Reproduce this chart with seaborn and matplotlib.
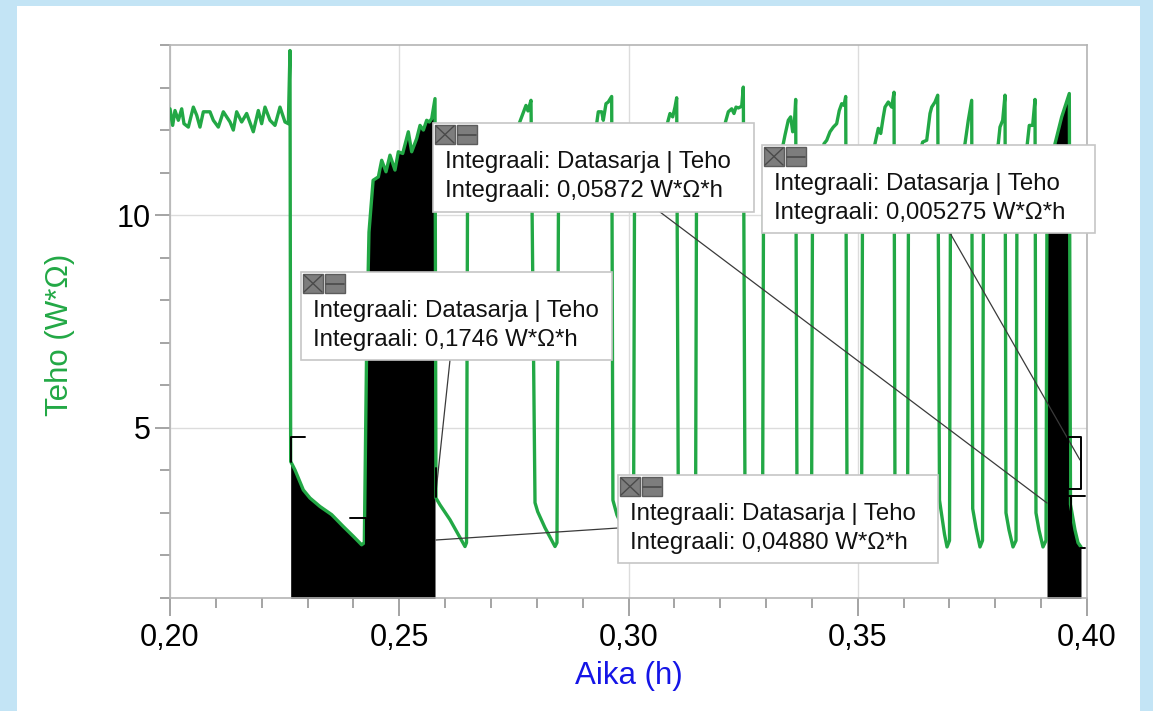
import numpy as np
import pandas as pd
import matplotlib
matplotlib.use("Agg")
import matplotlib.pyplot as plt
import seaborn as sns
from matplotlib.patches import Rectangle
from matplotlib.lines import Line2D
from matplotlib.ticker import MultipleLocator, FuncFormatter

# ---------------- data (Aika in h, Teho in W*Ohm) ----------------
alku_aika = [0.20000, 0.20058, 0.20109, 0.20182, 0.20255, 0.20305, 0.20400, 0.20509, 0.20582, 0.20654,
             0.20727, 0.20872, 0.20945, 0.21054, 0.21163, 0.21309, 0.21381, 0.21454, 0.21563, 0.21672,
             0.21817, 0.21926, 0.21999, 0.22072, 0.22181, 0.22290, 0.22399, 0.22508, 0.22581, 0.22617]
alku_teho = [12.50, 12.11, 12.46, 12.23, 12.50, 12.15, 12.07, 12.54, 12.35, 12.07,
             12.43, 12.43, 12.23, 12.07, 12.43, 12.19, 12.00, 12.43, 12.19, 12.39,
             11.96, 12.46, 12.15, 12.54, 12.23, 12.11, 12.54, 12.19, 12.15, 13.87]

lasku1_aika = [0.22632, 0.22726, 0.22908, 0.23053, 0.23272, 0.23526, 0.23780, 0.23998, 0.24180]
lasku1_teho = [4.21, 4.01, 3.54, 3.35, 3.15, 2.96, 2.68, 2.45, 2.25]

nousu2_aika = [0.24238, 0.24290, 0.24340, 0.24430, 0.24544, 0.24617, 0.24711, 0.24798, 0.24907, 0.24980,
               0.25075, 0.25198, 0.25271, 0.25380, 0.25453, 0.25526, 0.25598, 0.25657, 0.25708, 0.25780]
nousu2_teho = [2.30, 7.00, 9.60, 10.82, 10.90, 11.29, 11.02, 11.41, 11.06, 11.49,
               11.45, 11.96, 11.49, 11.80, 12.11, 12.00, 12.23, 12.19, 12.27, 12.74]

lasku2_aika = [0.25801, 0.25889, 0.26107, 0.26434, 0.26467]
lasku2_teho = [3.35, 3.19, 2.84, 2.21, 2.30]

nousu3_aika = [0.26489, 0.26761, 0.27088, 0.27306, 0.27459, 0.27618, 0.27699, 0.27764, 0.27808, 0.27873]
nousu3_teho = [10.50, 10.90, 11.30, 11.60, 11.90, 12.16, 12.39, 12.58, 12.45, 12.70]
lasku3_aika = [0.27961, 0.28019, 0.28179, 0.28397, 0.28440]
lasku3_teho = [3.24, 3.03, 2.65, 2.21, 2.30]

nousu4_aika = [0.28473, 0.28724, 0.28942, 0.29160, 0.29307, 0.29341, 0.29416, 0.29450, 0.29509, 0.29559, 0.29633]
nousu4_teho = [10.40, 10.90, 11.30, 11.80, 12.16, 12.43, 12.43, 12.23, 12.62, 12.66, 12.79]
lasku4_aika = [0.29660, 0.29749, 0.29924, 0.30076, 0.30109]
lasku4_teho = [3.30, 2.95, 2.55, 2.20, 2.30]

nousu5_aika = [0.30131, 0.30360, 0.30578, 0.30731, 0.30846, 0.30905, 0.30964, 0.31014, 0.31051]
nousu5_teho = [10.40, 10.90, 11.40, 11.80, 12.15, 12.39, 12.31, 12.54, 12.76]
lasku5_aika = [0.31086, 0.31167, 0.31341, 0.31429, 0.31461]
lasku5_teho = [3.30, 3.00, 2.50, 2.20, 2.30]

nousu6_aika = [0.31483, 0.31669, 0.31821, 0.31996, 0.32105, 0.32177, 0.32251, 0.32301, 0.32345, 0.32395, 0.32469, 0.32504]
nousu6_teho = [10.40, 10.80, 11.30, 11.80, 12.15, 12.43, 12.50, 12.39, 12.54, 12.52, 12.56, 13.01]
lasku6_aika = [0.32541, 0.32607, 0.32759, 0.32890, 0.32923]
lasku6_teho = [3.30, 3.05, 2.55, 2.20, 2.30]

nousu7_aika = [0.32945, 0.33130, 0.33261, 0.33376, 0.33413, 0.33485, 0.33537, 0.33581, 0.33616, 0.33646]
nousu7_teho = [10.40, 10.90, 11.30, 11.68, 11.88, 12.23, 12.31, 11.96, 12.11, 12.72]
lasku7_aika = [0.33675, 0.33740, 0.33871, 0.33958, 0.33991]
lasku7_teho = [3.30, 3.00, 2.50, 2.20, 2.30]

nousu8_aika = [0.34013, 0.34133, 0.34264, 0.34323, 0.34395, 0.34467, 0.34540, 0.34597, 0.34650, 0.34700, 0.34737]
nousu8_teho = [10.30, 10.90, 11.68, 11.76, 11.96, 12.07, 12.15, 12.46, 12.62, 12.58, 12.79]
lasku8_aika = [0.34766, 0.34831, 0.34962, 0.35049, 0.35082]
lasku8_teho = [3.30, 3.00, 2.50, 2.20, 2.30]

nousu9_aika = [0.35104, 0.35245, 0.35376, 0.35448, 0.35501, 0.35557, 0.35594, 0.35666, 0.35740, 0.35791]
nousu9_teho = [10.40, 11.10, 11.68, 12.04, 11.92, 12.31, 12.54, 12.66, 12.54, 12.89]
lasku9_aika = [0.35812, 0.35878, 0.35987, 0.36052, 0.36085]
lasku9_teho = [3.30, 2.95, 2.45, 2.20, 2.30]

nousu10_aika = [0.36107, 0.36270, 0.36417, 0.36504, 0.36576, 0.36613, 0.36685, 0.36744]
nousu10_teho = [10.50, 11.20, 11.72, 11.76, 12.39, 12.54, 12.66, 12.82]
lasku10_aika = [0.36783, 0.36837, 0.36892, 0.36947, 0.37001]
lasku10_teho = [3.30, 2.90, 2.50, 2.20, 2.35]

nousu11_aika = [0.37023, 0.37187, 0.37339, 0.37411, 0.37485]
nousu11_teho = [10.60, 11.20, 11.68, 12.23, 12.70]
lasku11_aika = [0.37507, 0.37579, 0.37666, 0.37721]
lasku11_teho = [3.10, 2.65, 2.20, 2.35]

nousu12_aika = [0.37743, 0.37906, 0.38065, 0.38102, 0.38161, 0.38212]
nousu12_teho = [10.60, 11.20, 11.68, 12.07, 12.23, 12.82]
lasku12_aika = [0.38233, 0.38299, 0.38386, 0.38452]
lasku12_teho = [3.00, 2.60, 2.20, 2.35]

nousu13_aika = [0.38473, 0.38604, 0.38698, 0.38741, 0.38815, 0.38866]
nousu13_teho = [10.60, 11.20, 11.68, 12.11, 12.11, 12.72]
lasku13_aika = [0.38887, 0.38953, 0.39040, 0.39106]
lasku13_teho = [3.00, 2.60, 2.20, 2.35]

nousu14_aika = [0.39128, 0.39215, 0.39302, 0.39448, 0.39614]
nousu14_teho = [10.60, 11.20, 11.68, 12.31, 12.86]
lasku14_aika = [0.39640, 0.39673, 0.39738, 0.39804, 0.39869]
lasku14_teho = [3.20, 3.00, 2.60, 2.30, 2.20]

# integral regions (start, end) in hours
integraali_alueet = [(0.2263, 0.2579), (0.3912, 0.3990)]
integraali_tekstit = ["0,1746", "0,05872", "0,005275", "0,04880"]
x_ticks = [0.20, 0.25, 0.30, 0.35, 0.40]

aika = np.concatenate([alku_aika, lasku1_aika, nousu2_aika, lasku2_aika,
                       nousu3_aika, lasku3_aika, nousu4_aika, lasku4_aika,
                       nousu5_aika, lasku5_aika, nousu6_aika, lasku6_aika,
                       nousu7_aika, lasku7_aika, nousu8_aika, lasku8_aika,
                       nousu9_aika, lasku9_aika, nousu10_aika, lasku10_aika,
                       nousu11_aika, lasku11_aika, nousu12_aika, lasku12_aika,
                       nousu13_aika, lasku13_aika, nousu14_aika, lasku14_aika])
teho = np.concatenate([alku_teho, lasku1_teho, nousu2_teho, lasku2_teho,
                       nousu3_teho, lasku3_teho, nousu4_teho, lasku4_teho,
                       nousu5_teho, lasku5_teho, nousu6_teho, lasku6_teho,
                       nousu7_teho, lasku7_teho, nousu8_teho, lasku8_teho,
                       nousu9_teho, lasku9_teho, nousu10_teho, lasku10_teho,
                       nousu11_teho, lasku11_teho, nousu12_teho, lasku12_teho,
                       nousu13_teho, lasku13_teho, nousu14_teho, lasku14_teho])
df = pd.DataFrame({"Aika": aika, "Teho": teho})

# ---------------- styling ----------------
sns.set_theme(style="white")
plt.rcParams['font.family'] = ['Liberation Sans', 'DejaVu Sans']

GREEN = "#22a845"
W, H = 1153, 711
fig = plt.figure(figsize=(W / 100, H / 100), dpi=100, facecolor="#c3e4f5")

def fx(px):
    return px / W

def fy(py):
    return 1 - py / H

# white panel
fig.add_artist(Rectangle((fx(17), 0), fx(1140) - fx(17), fy(6), transform=fig.transFigure,
                         facecolor="white", edgecolor="none", zorder=-10))

ax = fig.add_axes([fx(170), fy(598), fx(1087) - fx(170), fy(45) - fy(598)])
ax.set_facecolor("white")

# integral fills
for a0, a1 in integraali_alueet:
    mask = (df["Aika"] >= a0) & (df["Aika"] <= a1)
    ax.fill_between(df["Aika"], df["Teho"], 0, where=mask, color="black", lw=0, zorder=2)

sns.lineplot(data=df, x="Aika", y="Teho", color=GREEN, lw=2.4, estimator=None, sort=False,
             ax=ax, zorder=3)
for ln in ax.lines:
    ln.set_solid_joinstyle("round")

ax.set_xlim(0.20, 0.40)
ax.set_ylim(1, 14)
ax.set_xticks(x_ticks)
ax.xaxis.set_minor_locator(MultipleLocator(0.01))
ax.yaxis.set_major_locator(MultipleLocator(5))
ax.yaxis.set_minor_locator(MultipleLocator(1))
ax.xaxis.set_major_formatter(FuncFormatter(lambda v, p: f"{v:.2f}".replace(".", ",")))
ax.yaxis.set_major_formatter(FuncFormatter(lambda v, p: f"{v:g}"))
ax.grid(True, which="major", color="#dcdcdc", lw=1, zorder=0)
ax.set_axisbelow(True)
for s in ax.spines.values():
    s.set_color("#b4b4b4")
    s.set_linewidth(1.2)
ax.tick_params(which="both", bottom=True, left=True, top=False, right=False)
ax.tick_params(which="major", direction="out", length=13, width=1.1, color="#8c8c8c",
               labelsize=22, labelcolor="black")
ax.tick_params(axis="x", which="major", pad=5)
ax.tick_params(axis="y", which="major", length=11, pad=3)
ax.tick_params(which="minor", direction="out", length=7, width=1.1, color="#8c8c8c")

ax.set_xlabel("Aika (h)", fontsize=22.5, color="#1515e6")
ax.set_ylabel("Teho (W*Ω)", fontsize=22.5, color=GREEN)
ax.xaxis.set_label_coords(0.5, -(676 - 598) / 553)
ax.xaxis.label.set_va("center")
ax.yaxis.set_label_coords((60 - 170) / 917, (598 - 335) / 553)
ax.yaxis.label.set_va("center")

# ---------------- annotation decorations ----------------
def fig_line(xs, ys, color="#3a3a3a", lw=0.9, z=4):
    fig.add_artist(Line2D([fx(v) for v in xs], [fy(v) for v in ys], transform=fig.transFigure,
                          color=color, lw=lw, zorder=z))

# leader lines
fig_line([450, 436], [360, 492])
fig_line([618, 436], [528, 540])
fig_line([660, 1047], [212, 503])
fig_line([950, 1080], [233, 460])

# region brackets
fig_line([291, 291, 305], [462, 437, 437], color="black", lw=1.4)
fig_line([350, 366, 366], [518, 518, 545], color="black", lw=1.4)
fig_line([436, 436], [468, 497], color="black", lw=1.4)
fig_line([1068, 1081, 1081, 1068, 1068], [437, 437, 489, 489, 437], color="black", lw=1.4)
fig_line([1068, 1085], [496, 496], color="black", lw=1.4)
fig_line([1071, 1071], [496, 523], color="black", lw=1.4)
fig_line([1080, 1085], [548, 548], color="black", lw=1.4)

# boxes: (left, top, right, bottom)
laatikot = [(301, 272, 612, 360), (433, 123, 754, 212), (762, 145, 1095, 233), (618, 475, 938, 563)]
for (l, t, r, b), val in zip(laatikot, integraali_tekstit):
    fig.add_artist(Rectangle((fx(l), fy(b)), fx(r) - fx(l), fy(t) - fy(b), transform=fig.transFigure,
                             facecolor="white", edgecolor="#c6c6c6", lw=1.2, zorder=5))
    for k in range(2):
        bl = l + 2 + 22 * k
        fig.add_artist(Rectangle((fx(bl), fy(t + 21)), fx(bl + 20) - fx(bl), fy(t + 2) - fy(t + 21),
                                 transform=fig.transFigure, facecolor="#7d7d7d",
                                 edgecolor="#5c5c5c", lw=1, zorder=6))
    fig.add_artist(Line2D([fx(l + 3), fx(l + 21)], [fy(t + 3), fy(t + 20)], transform=fig.transFigure,
                          color="#4a4a4a", lw=1, zorder=7))
    fig.add_artist(Line2D([fx(l + 3), fx(l + 21)], [fy(t + 20), fy(t + 3)], transform=fig.transFigure,
                          color="#4a4a4a", lw=1, zorder=7))
    fig.add_artist(Line2D([fx(l + 25), fx(l + 43)], [fy(t + 11.5), fy(t + 11.5)], transform=fig.transFigure,
                          color="#4a4a4a", lw=1.2, zorder=7))
    fig.text(fx(l + 12), fy(t + 39), "Integraali: Datasarja | Teho", fontsize=17.3,
             va="center", ha="left", color="#111111", zorder=8)
    fig.text(fx(l + 12), fy(t + 68), f"Integraali: {val} W*Ω*h", fontsize=17.3,
             va="center", ha="left", color="#111111", zorder=8)

fig.savefig("out.png", dpi=100, facecolor=fig.get_facecolor())
